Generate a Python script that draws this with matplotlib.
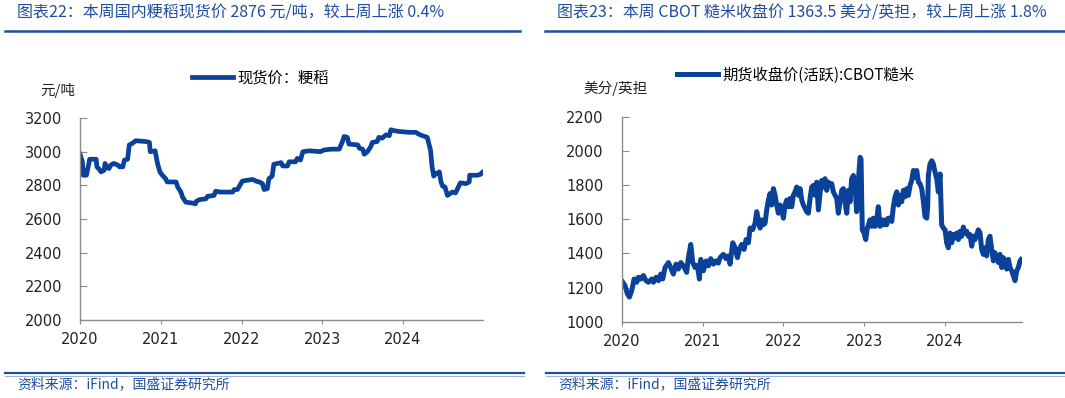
import matplotlib
matplotlib.use("Agg")
import matplotlib.pyplot as plt
from matplotlib.lines import Line2D

CJK = ['Noto Sans CJK SC', 'DejaVu Sans']
BLUE = '#0A4199'
TITLE_BLUE = '#1F4E9E'

# ---- data: rice spot price (yuan/ton), time as years after 2020-01-01
spot_t = [0.00, 0.03, 0.04, 0.08, 0.11, 0.12, 0.20, 0.21, 0.24, 0.26, 0.30, 0.31, 0.33, 0.36,
          0.38, 0.42, 0.47, 0.49, 0.53, 0.55, 0.59, 0.61, 0.65, 0.69, 0.82, 0.86, 0.87, 0.93,
          0.96, 0.99, 1.02, 1.06, 1.08, 1.15, 1.19, 1.21, 1.25, 1.27, 1.31, 1.39, 1.43, 1.44,
          1.48, 1.56, 1.58, 1.66, 1.68, 1.74, 1.89, 1.91, 1.95, 1.98, 2.01, 2.07, 2.14, 2.18,
          2.22, 2.26, 2.28, 2.32, 2.34, 2.38, 2.40, 2.49, 2.51, 2.57, 2.59, 2.67, 2.69, 2.73,
          2.76, 2.84, 2.98, 3.02, 3.11, 3.21, 3.25, 3.27, 3.31, 3.33, 3.44, 3.46, 3.50, 3.52,
          3.56, 3.60, 3.62, 3.68, 3.70, 3.74, 3.79, 3.83, 3.85, 3.89, 3.95, 4.07, 4.16, 4.19,
          4.24, 4.30, 4.34, 4.36, 4.38, 4.41, 4.45, 4.47, 4.49, 4.52, 4.55, 4.61, 4.65, 4.68,
          4.71, 4.78, 4.82, 4.825, 4.88, 4.92, 4.96, 4.98]
spot_v = [2985, 2940, 2860, 2860, 2930, 2955, 2955, 2910, 2895, 2880, 2890, 2930, 2910, 2900,
          2920, 2930, 2920, 2910, 2910, 2950, 2955, 3040, 3050, 3065, 3060, 3055, 3000, 3005,
          2930, 2880, 2860, 2840, 2820, 2820, 2820, 2790, 2760, 2730, 2700, 2695, 2690, 2705,
          2715, 2720, 2735, 2740, 2765, 2760, 2760, 2775, 2775, 2800, 2825, 2830, 2835, 2825,
          2820, 2810, 2775, 2780, 2840, 2855, 2925, 2935, 2915, 2915, 2940, 2940, 2960, 2950,
          3000, 3005, 3000, 3010, 3015, 3015, 3060, 3090, 3085, 3045, 3040, 3020, 3015, 2985,
          3000, 3030, 3055, 3060, 3085, 3080, 3100, 3095, 3130, 3125, 3120, 3115, 3115, 3105,
          3095, 3085, 3010, 2910, 2855, 2870, 2880, 2820, 2795, 2790, 2740, 2760, 2755, 2785,
          2815, 2810, 2820, 2860, 2860, 2860, 2865, 2876]

# ---- data: CBOT rough rice close (cents/cwt)
cbot_t = [0.00, 0.04, 0.07, 0.095, 0.124, 0.153, 0.186, 0.206, 0.235, 0.268, 0.30, 0.33, 0.371,
          0.392, 0.425, 0.454, 0.483, 0.507, 0.536, 0.578, 0.606, 0.639, 0.672, 0.701, 0.73,
          0.763, 0.804, 0.825, 0.854, 0.879, 0.908, 0.936, 0.961, 0.978, 1.011, 1.044, 1.073,
          1.101, 1.134, 1.167, 1.196, 1.217, 1.258, 1.291, 1.32, 1.341, 1.374, 1.403, 1.432,
          1.456, 1.485, 1.514, 1.539, 1.568, 1.588, 1.621,
          1.650, 1.671, 1.691, 1.712, 1.733, 1.753, 1.774, 1.794, 1.815, 1.836, 1.856, 1.877,
          1.898, 1.918, 1.939, 1.959, 1.980, 2.001, 2.021, 2.042, 2.063, 2.083, 2.104, 2.124,
          2.145, 2.166, 2.186, 2.207, 2.228, 2.248, 2.269, 2.289, 2.310, 2.331, 2.351, 2.372,
          2.393, 2.413, 2.434, 2.454, 2.475, 2.496, 2.516, 2.537, 2.558, 2.578, 2.599, 2.619,
          2.640, 2.661, 2.681, 2.702, 2.723, 2.743, 2.764, 2.785, 2.805, 2.826, 2.846, 2.867,
          2.888, 2.908, 2.929, 2.950, 2.962, 2.970, 2.978, 2.999, 3.020, 3.040, 3.073, 3.094,
          3.114, 3.135, 3.155, 3.176, 3.197, 3.217, 3.238, 3.258, 3.279, 3.300,
          3.321, 3.342, 3.362, 3.383, 3.404, 3.424, 3.445, 3.465, 3.486, 3.507, 3.527, 3.548,
          3.569, 3.589, 3.610, 3.630, 3.651, 3.672, 3.692, 3.713, 3.734, 3.754, 3.775, 3.787,
          3.795, 3.816, 3.837, 3.857, 3.878, 3.899, 3.919, 3.940, 3.948, 3.960, 3.981, 4.002,
          4.022, 4.043, 4.063, 4.084, 4.105, 4.125, 4.146, 4.167, 4.187, 4.208, 4.228, 4.249,
          4.270, 4.290, 4.311, 4.332, 4.352, 4.373, 4.393, 4.414, 4.435, 4.455, 4.476, 4.497,
          4.517, 4.538, 4.558, 4.579, 4.600, 4.620, 4.641, 4.662, 4.682, 4.703, 4.724, 4.744,
          4.765, 4.786, 4.806, 4.827, 4.847, 4.868, 4.889, 4.909, 4.930, 4.942]
cbot_v = [1240, 1212, 1163, 1144, 1183, 1250, 1231, 1260, 1250, 1270, 1240, 1231, 1250,
          1231, 1260, 1240, 1279, 1250, 1317, 1346, 1317, 1279, 1337, 1308, 1346,
          1327, 1289, 1375, 1452, 1346, 1317, 1331, 1250, 1365, 1298, 1356, 1327,
          1369, 1337, 1356, 1343, 1375, 1394, 1369, 1385, 1337, 1462, 1433, 1375,
          1423, 1452, 1423, 1481, 1462, 1548, 1539,
          1577, 1644, 1596, 1548, 1596, 1567, 1577, 1654, 1712, 1750, 1683, 1779,
          1740, 1683, 1635, 1683, 1654, 1606, 1683, 1712, 1673, 1721, 1673, 1740,
          1760, 1788, 1740, 1779, 1712, 1683, 1663, 1644, 1635, 1721, 1788, 1798,
          1740, 1817, 1654, 1750, 1827, 1788, 1837, 1769, 1817, 1798, 1808, 1760,
          1740, 1721, 1635, 1702, 1769, 1779, 1702, 1635, 1769, 1702, 1837, 1856,
          1788, 1644, 1827, 1962, 1952, 1712, 1538, 1519, 1481, 1548, 1596, 1558,
          1606, 1558, 1596, 1673, 1558, 1596, 1567, 1596, 1567, 1606,
          1606, 1587, 1673, 1731, 1760, 1683, 1740, 1702, 1769, 1731, 1779, 1740,
          1798, 1827, 1885, 1846, 1885, 1817, 1808, 1779, 1702, 1615, 1606, 1673,
          1856, 1923, 1942, 1923, 1875, 1837, 1760, 1865, 1750, 1567, 1548, 1538,
          1462, 1433, 1519, 1462, 1510, 1490, 1519, 1481, 1529, 1500, 1554, 1519,
          1529, 1500, 1510, 1442, 1500, 1481, 1510, 1538, 1519, 1423, 1394, 1433,
          1385, 1481, 1500, 1423, 1356, 1404, 1375, 1346, 1394, 1317, 1375, 1337,
          1308, 1365, 1317, 1298, 1269, 1240, 1298, 1317, 1356, 1364]

years = [2020, 2021, 2022, 2023, 2024]

fig = plt.figure(figsize=(10.65, 3.98), dpi=100)


def style_axes(ax, ylim, xmax):
    ax.set_ylim(*ylim)
    ax.set_yticks(range(ylim[0], ylim[1] + 1, 200))
    ax.set_xlim(0, xmax)
    ax.set_xticks([y - 2020 for y in years])
    ax.set_xticklabels([str(y) for y in years])
    for s in ['top', 'right']:
        ax.spines[s].set_visible(False)
    for s in ['left', 'bottom']:
        ax.spines[s].set_color('#8c8c8c')
        ax.spines[s].set_linewidth(1.0)
    ax.tick_params(axis='y', direction='in', length=5, color='#8c8c8c', pad=13,
                   labelsize=10.5, labelcolor='#222222')
    ax.tick_params(axis='x', direction='out', length=3, color='#8c8c8c', pad=6,
                   labelsize=10.5, labelcolor='#222222')


ax1 = fig.add_axes([0.0751, 0.196, 0.3784, 0.5075])
ax1.plot(spot_t, spot_v, color=BLUE, lw=3.4, solid_joinstyle='round',
         label='现货价：粳稻')
style_axes(ax1, (2000, 3200), 4.99)

ax2 = fig.add_axes([0.5838, 0.1917, 0.3758, 0.5151])
ax2.plot(cbot_t, cbot_v, color=BLUE, lw=3.6, solid_joinstyle='round',
         label='期货收盘价(活跃):CBOT糙米')
style_axes(ax2, (1000, 2200), 4.954)

# legends
for ax, x, y in [(ax1, 192, 78), (ax2, 677, 75)]:
    fig.legend(handles=ax.get_lines(), loc='center left',
               bbox_to_anchor=(x / 1065, 1 - y / 398), frameon=False,
               borderpad=0, borderaxespad=0, handlelength=2.7, handletextpad=0.3,
               prop={'family': CJK, 'size': 11})

# unit labels
fig.text(40 / 1065, 1 - 90 / 398, '元/吨', family=CJK, fontsize=10.5, va='center',
         color='#222222')
fig.text(583 / 1065, 1 - 88 / 398, '美分/英担', family=CJK, fontsize=10.5, va='center',
         color='#222222')

# titles
fig.text(17 / 1065, 1 - 13 / 398, '图表22：本周国内粳稻现货价 2876 元/吨，较上周上涨 0.4%',
         family=CJK, fontsize=11.5, style='italic', color=TITLE_BLUE, va='center')
fig.text(557 / 1065, 1 - 13 / 398, '图表23：本周 CBOT 糙米收盘价 1363.5 美分/英担，较上周上涨 1.8%',
         family=CJK, fontsize=11.5, style='italic', color=TITLE_BLUE, va='center')

# separator lines
for x0, x1 in [(5, 520), (545, 1065)]:
    fig.add_artist(Line2D([x0 / 1065, x1 / 1065], [1 - 31 / 398] * 2, color='#1F4E9E', lw=1.8))
for x0, x1 in [(5, 524), (546, 1065)]:
    fig.add_artist(Line2D([x0 / 1065, x1 / 1065], [1 - 373 / 398] * 2, color='#1F4E9E', lw=1.6))
    fig.add_artist(Line2D([x0 / 1065, x1 / 1065], [1 - 375.5 / 398] * 2, color='#9db3dc', lw=0.8))

# sources
for x in [17, 558]:
    fig.text(x / 1065, 1 - 384 / 398, '资料来源：iFind，国盛证券研究所', family=CJK, fontsize=10,
             style='italic', color=TITLE_BLUE, va='center')

fig.savefig('out.png', dpi=100)
